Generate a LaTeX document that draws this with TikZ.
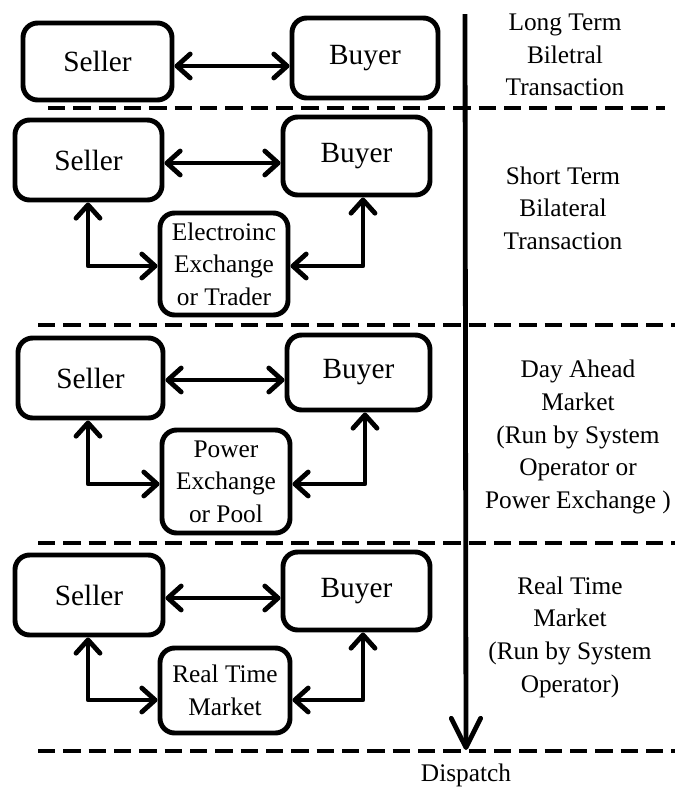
\documentclass[tikz,border=0pt]{standalone}
\usepackage{fontspec}
\setmainfont{Liberation Serif}
\usetikzlibrary{arrows.meta}
\begin{document}
\begin{tikzpicture}[x=0.75pt,y=-0.75pt,
  party/.style={draw, line width=3.7pt, rounded corners=11pt, font=\fontsize{22}{25}\selectfont},
  market/.style={draw, line width=3.7pt, rounded corners=11pt, align=center, inner sep=0pt,
    font=\fontsize{19}{24.5}\selectfont},
  barb/.tip={Straight Barb[length=10pt,width=18pt,line cap=round,line join=round]},
  link/.style={line width=3.6pt, line join=round, barb-barb},
  sep/.style={line width=3.7pt, dash pattern=on 13pt off 6pt},
  caption/.style={align=center, font=\fontsize{19}{24.5}\selectfont}]
\useasboundingbox (0,0) rectangle (675,790);

% row 1: long term bilateral
\node[party, minimum width=149*0.75pt, minimum height=77*0.75pt] (s1) at (97.5,61.5) {Seller};
\node[party, minimum width=146*0.75pt, minimum height=80*0.75pt] (b1) at (365,58) {\raisebox{4pt}{Buyer}};
\draw[link] (s1.east|-0,66) -- (b1.west|-0,66);

% row 2: short term bilateral
\node[party, minimum width=147*0.75pt, minimum height=80*0.75pt] (s2) at (88.5,160) {Seller};
\node[party, minimum width=147*0.75pt, minimum height=78*0.75pt] (b2) at (356.5,156) {\raisebox{4pt}{Buyer}};
\node[market, minimum width=128*0.75pt, minimum height=102*0.75pt] (e2) at (224,264) {Electroinc\\Exchange\\or Trader};
\draw[link] (s2.east|-0,163) -- (b2.west|-0,163);
\draw[link] (s2.south-|88,0) |- (e2.west|-0,266);
\draw[link] (b2.south-|363,0) |- (e2.east|-0,266);

% row 3: day ahead market
\node[party, minimum width=145*0.75pt, minimum height=80*0.75pt] (s3) at (90.5,378) {Seller};
\node[party, minimum width=143*0.75pt, minimum height=75*0.75pt] (b3) at (358.5,372.5) {\raisebox{4pt}{Buyer}};
\node[market, minimum width=128*0.75pt, minimum height=103*0.75pt] (e3) at (226,481.5) {Power\\Exchange\\or Pool};
\draw[link] (s3.east|-0,380) -- (b3.west|-0,380);
\draw[link] (s3.south-|88,0) |- (e3.west|-0,484);
\draw[link] (b3.south-|365,0) |- (e3.east|-0,484);

% row 4: real time market
\node[party, minimum width=148*0.75pt, minimum height=80*0.75pt] (s4) at (89,595) {Seller};
\node[party, minimum width=147*0.75pt, minimum height=78*0.75pt] (b4) at (356.5,591) {\raisebox{4pt}{Buyer}};
\node[market, minimum width=130*0.75pt, minimum height=85*0.75pt] (e4) at (225,690.5) {Real Time\\Market};
\draw[link] (s4.east|-0,598) -- (b4.west|-0,598);
\draw[link] (s4.south-|88,0) |- (e4.west|-0,700);
\draw[link] (b4.south-|363,0) |- (e4.east|-0,700);

% time axis and stage separators
\draw[sep] (48,108) -- (665,108);
\draw[sep] (38,325) -- (675,325);
\draw[sep] (38,543) -- (675,543);
\draw[sep] (38,751) -- (675,751);
\coordinate (top) at (465,14);
\node[caption, anchor=base] (dispatch) at (466,781) {Dispatch};
\draw[line width=3.6pt, -{Straight Barb[length=22pt,width=22pt,line cap=round,line join=round]}] (top) -- (dispatch.north|-0,750);

% stage captions
\node[caption] (c1) at (565,55) {Long Term\\Biletral\\Transaction};
\node[caption] (c2) at (563,208) {Short Term\\Bilateral\\Transaction};
\node[caption] (c3) at (578,437) {Day Ahead\\Market\\(Run by System\\Operator or\\Power Exchange )};
\node[caption] (c4) at (570,637) {Real Time\\Market\\(Run by System\\Operator)};
\end{tikzpicture}
\end{document}
